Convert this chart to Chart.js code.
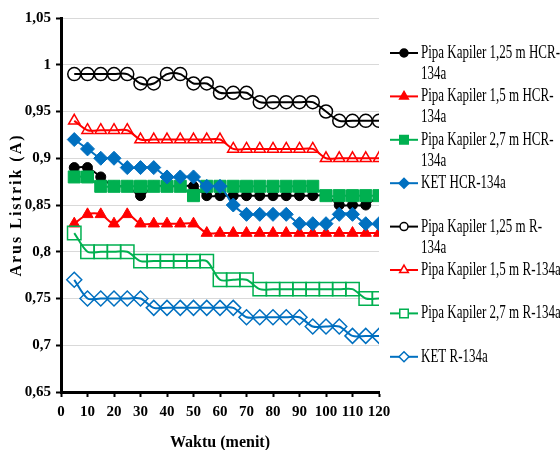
<!DOCTYPE html>
<html>
<head>
<meta charset="utf-8">
<script src="https://cdn.jsdelivr.net/npm/chart.js@4.4.1/dist/chart.umd.min.js"></script>
<style>
  html, body { margin: 0; padding: 0; background: #fff; }
  #wrap { width: 560px; height: 450px; position: relative; }
</style>
</head>
<body>
<div id="wrap"><canvas id="grafik"></canvas></div>
<script>
const waktu = [5, 10, 15, 20, 25, 30, 35, 40, 45, 50, 55, 60, 65, 70, 75, 80, 85, 90, 95, 100, 105, 110, 115, 120];

// HCR-134a
const hcr125 = [0.89, 0.89, 0.88, 0.87, 0.87, 0.86, 0.87, 0.87, 0.87, 0.87, 0.86, 0.86, 0.86, 0.86, 0.86, 0.86, 0.86, 0.86, 0.86, 0.86, 0.85, 0.85, 0.85, 0.86];
const hcr15 = [0.83, 0.84, 0.84, 0.83, 0.84, 0.83, 0.83, 0.83, 0.83, 0.83, 0.82, 0.82, 0.82, 0.82, 0.82, 0.82, 0.82, 0.82, 0.82, 0.82, 0.82, 0.82, 0.82, 0.82];
const hcr27 = [0.88, 0.88, 0.87, 0.87, 0.87, 0.87, 0.87, 0.87, 0.87, 0.86, 0.87, 0.87, 0.87, 0.87, 0.87, 0.87, 0.87, 0.87, 0.87, 0.86, 0.86, 0.86, 0.86, 0.86];
const ketHcr = [0.92, 0.91, 0.90, 0.90, 0.89, 0.89, 0.89, 0.88, 0.88, 0.88, 0.87, 0.87, 0.85, 0.84, 0.84, 0.84, 0.84, 0.83, 0.83, 0.83, 0.84, 0.84, 0.83, 0.83];

// R-134a
const r125 = [0.99, 0.99, 0.99, 0.99, 0.99, 0.98, 0.98, 0.99, 0.99, 0.98, 0.98, 0.97, 0.97, 0.97, 0.96, 0.96, 0.96, 0.96, 0.96, 0.95, 0.94, 0.94, 0.94, 0.94];
const r15 = [0.94, 0.93, 0.93, 0.93, 0.93, 0.92, 0.92, 0.92, 0.92, 0.92, 0.92, 0.92, 0.91, 0.91, 0.91, 0.91, 0.91, 0.91, 0.91, 0.90, 0.90, 0.90, 0.90, 0.90];
const r27 = [0.82, 0.80, 0.80, 0.80, 0.80, 0.79, 0.79, 0.79, 0.79, 0.79, 0.79, 0.77, 0.77, 0.77, 0.76, 0.76, 0.76, 0.76, 0.76, 0.76, 0.76, 0.76, 0.75, 0.75];
const ketR = [0.77, 0.75, 0.75, 0.75, 0.75, 0.75, 0.74, 0.74, 0.74, 0.74, 0.74, 0.74, 0.74, 0.73, 0.73, 0.73, 0.73, 0.73, 0.72, 0.72, 0.72, 0.71, 0.71, 0.71];

const seriesLabels = [
  'Pipa Kapiler 1,25 m HCR-134a',
  'Pipa Kapiler 1,5 m HCR-134a',
  'Pipa Kapiler 2,7 m HCR-134a',
  'KET HCR-134a',
  'Pipa Kapiler 1,25 m R-134a',
  'Pipa Kapiler 1,5 m R-134a',
  'Pipa Kapiler 2,7 m R-134a',
  'KET R-134a'
];

const xTitle = 'Waktu (menit)';
const yTitle = 'Arus Listrik (A)';

const FONT = "'Liberation Serif', 'Times New Roman', serif";

const allSeries = [hcr125, hcr15, hcr27, ketHcr, r125, r15, r27, ketR];
const colors = ['#000000', '#ff0000', '#00b050', '#0070c0', '#000000', '#ff0000', '#00b050', '#0070c0'];
const markers = ['circle', 'triangle', 'rect', 'rectRot', 'circle', 'triangle', 'rect', 'rectRot'];
const markerSize = [5, 6.5, 8.5, 7, 6.5, 6.5, 9.5, 7.5];
const legendMarkerSize = [4, 5, 6, 5, 4, 5, 6, 5];
const filled = [true, true, true, true, false, false, false, false];

function formatTick(v) {
  return parseFloat(v.toFixed(2)).toString().replace('.', ',');
}

const datasets = allSeries.map((vals, i) => ({
  label: seriesLabels[i],
  data: vals.map((v, k) => ({ x: waktu[k], y: v })),
  borderColor: colors[i],
  backgroundColor: colors[i],
  borderWidth: 2,
  tension: 0.3,
  fill: false,
  pointStyle: markers[i],
  pointRadius: markerSize[i],
  pointBackgroundColor: filled[i] ? colors[i] : 'rgba(0,0,0,0)',
  pointBorderColor: colors[i],
  pointBorderWidth: filled[i] ? 1 : 1.5,
  // later series sit on top, as in the original
  order: allSeries.length - i
}));

function wrapText(ctx, text, maxWidth) {
  const tokens = text.match(/[^\s-]+-?\s*/g);
  const lines = [];
  let line = '';
  for (let t of tokens) {
    if (line && ctx.measureText((line + t).trim()).width > maxWidth) {
      lines.push(line.trim());
      line = t;
    } else {
      line += t;
    }
  }
  if (line) lines.push(line.trim());
  return lines;
}

const sideLegend = {
  id: 'sideLegend',
  afterDraw(chart) {
    const ctx = chart.ctx;
    const lineX0 = 390, lineX1 = 418, textX = 421;
    const top = 53, step = 43.4, lineGap = 21;

    ctx.save();
    ctx.font = '13px ' + FONT;
    ctx.textBaseline = 'middle';
    ctx.textAlign = 'left';

    seriesLabels.forEach((label, i) => {
      const y = top + i * step;

      ctx.strokeStyle = colors[i];
      ctx.lineWidth = 2;
      ctx.beginPath();
      ctx.moveTo(lineX0, y);
      ctx.lineTo(lineX1, y);
      ctx.stroke();

      ctx.fillStyle = filled[i] ? colors[i] : '#ffffff';
      ctx.lineWidth = 1.5;
      Chart.helpers.drawPoint(ctx, {
        pointStyle: markers[i],
        radius: legendMarkerSize[i],
        borderWidth: 1.5,
        rotation: 0
      }, (lineX0 + lineX1) / 2, y);

      ctx.fillStyle = '#000';
      const lines = wrapText(ctx, label, 141);
      lines.forEach((ln, k) => {
        ctx.save();
        ctx.translate(textX, y + k * lineGap);
        ctx.scale(1, 1.45);
        ctx.fillText(ln, 0, 0);
        ctx.restore();
      });
    });

    // y axis title, letter spaced like the original
    ctx.translate(17, 205);
    ctx.rotate(-Math.PI / 2);
    ctx.font = 'bold 16px ' + FONT;
    ctx.letterSpacing = '2px';
    ctx.textAlign = 'center';
    ctx.fillStyle = '#000';
    ctx.fillText(yTitle, 0, 0);
    ctx.restore();
  }
};

new Chart(document.getElementById('grafik'), {
  type: 'line',
  data: { datasets: datasets },
  plugins: [sideLegend],
  options: {
    responsive: true,
    maintainAspectRatio: false,
    animation: false,
    layout: { padding: { top: 18, right: 181, left: 0, bottom: 0 } },
    plugins: {
      legend: { display: false },
      tooltip: { enabled: false }
    },
    scales: {
      x: {
        type: 'linear',
        min: 0,
        max: 120,
        ticks: {
          stepSize: 10,
          autoSkip: false,
          color: '#000',
          padding: 6,
          maxRotation: 0,
          font: { family: FONT, size: 15, weight: 'bold' }
        },
        grid: { drawOnChartArea: false, tickLength: 5, tickColor: '#000', tickWidth: 2 },
        border: { color: '#000', width: 3 },
        title: {
          display: true,
          text: xTitle,
          color: '#000',
          padding: { top: 0, bottom: -2 },
          font: { family: FONT, size: 16, weight: 'bold' }
        },
        afterFit: (scale) => { scale.height = 58; }
      },
      y: {
        min: 0.65,
        max: 1.05,
        ticks: {
          stepSize: 0.05,
          color: '#000',
          padding: 5,
          font: { family: FONT, size: 15, weight: 'bold' },
          callback: (v) => formatTick(v)
        },
        grid: { color: '#d9d9d9', lineWidth: 1, tickLength: 5, tickColor: '#000', tickWidth: 2 },
        border: { color: '#000', width: 3 },
        afterFit: (scale) => { scale.width = 61; }
      }
    }
  }
});
</script>
</body>
</html>
